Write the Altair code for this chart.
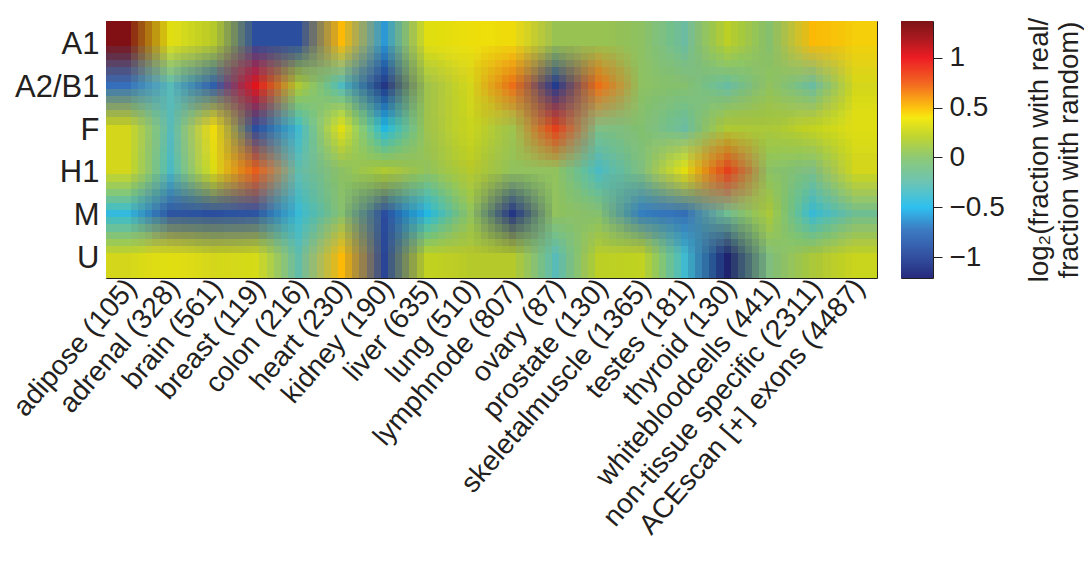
import altair as alt
import pandas as pd

tissues = ["adipose (105)", "adrenal (328)", "brain (561)", "breast (119)", "colon (216)", "heart (230)",
           "kidney (190)", "liver (635)", "lung (510)", "lymphnode (807)", "ovary (87)", "prostate (130)",
           "skeletalmuscle (1365)", "testes (181)", "thyroid (130)", "whitebloodcells (441)",
           "non-tissue specific (2311)", "ACEscan [+] exons (4487)"]
motifs = ["A1", "A2/B1", "F", "H1", "M", "U"]

row_A1 = [1.33, .38, .2, -.95, -.95, .5, -.6, .38, .4, .42, .08, .08, .03, -.2, .22, .0, .5, .45]
row_A2B1 = [-.72, -.3, -.85, 1.0, .18, -.33, -1.1, .1, .3, .7, -1.05, .7, .03, .0, -.22, .05, -.2, .3]
row_F = [.3, -.3, .42, -.95, -.4, .37, -.5, .1, .28, .1, .85, -.1, -.02, -.2, .18, .15, .25, .35]
row_H1 = [.3, -.35, .33, .75, -.25, .02, .18, .05, .2, .05, .05, -.35, -.05, .38, .85, .02, -.1, .3]
row_M = [-.45, -.9, -.95, -.9, -.42, .0, -.95, -.5, .05, -1.1, .05, .0, -.7, -.75, -.15, .15, -.42, -.15]
row_U = [.3, .38, .3, .32, -.25, .5, -1.0, .25, .2, .2, -.3, .22, .25, -.4, -1.2, -.05, .15, .28]
rows = [row_A1, row_A2B1, row_F, row_H1, row_M, row_U]

color_values = [-1.21, -1.0, -.72, -.5, -.25, 0, .2, .4, .5, .75, 1.0, 1.2, 1.37]
color_hexes = ["#262a7c", "#324f9f", "#3c7cc3", "#2fc0ef", "#6cc4b4", "#8ec975", "#bdd432", "#f5e911",
               "#fdc20f", "#f26522", "#ed1c24", "#a8191e", "#7d1416"]
bar_ticks = [-1, -0.5, 0, 0.5, 1]
lo, hi = color_values[0], color_values[-1]

W, H = 771, 257

def snap(v, start, count, size):
    # edge in axis units, placed on a whole pixel so neighbouring copies leave no seam
    return round((v - start) / count * size) / size * count + start

# Every read value is painted several times, each copy shifted by a fraction of a cell and
# composited with a running-average opacity: the overlaid copies blend like the source's smoothed image.
N = 6
offsets = [(k + .5) / N - .5 for k in range(N)]
marks = []
layer = 0
for dy in offsets:
    for dx in offsets:
        for r, row in enumerate(rows):
            for c, v in enumerate(row):
                marks.append({
                    "v": v, "op": 1 / (layer + 1),
                    "x0": -.5 if c == 0 else snap(c - .5 + dx, -.5, 18, W),
                    "x1": 17.5 if c == 17 else snap(c + .5 + dx, -.5, 18, W),
                    "y0": -.5 if r == 0 else snap(r - .5 + dy, -.5, 6, H),
                    "y1": 5.5 if r == 5 else snap(r + .5 + dy, -.5, 6, H),
                })
        layer += 1

FONT = "Liberation Sans"
x_expr = "[" + ",".join(f"'{t}'" for t in tissues) + "][datum.value]"
y_expr = "[" + ",".join(f"'{t}'" for t in motifs) + "][datum.value]"

heat = alt.Chart(pd.DataFrame(marks)).mark_rect(strokeWidth=0).encode(
    x=alt.X("x0:Q", scale=alt.Scale(domain=[-.5, 17.5], nice=False, zero=False),
            axis=alt.Axis(values=list(range(18)), labelExpr=x_expr, labelAngle=311, labelAlign="right",
                          labelBaseline="middle", labelFontSize=28, labelFont=FONT, labelColor="#231f20",
                          labelOverlap=False, labelPadding=5, labelOffset=4, ticks=False, domain=False, grid=False,
                          title=None, labelBound=False, labelFlush=False, labelLimit=600)),
    x2="x1:Q",
    y=alt.Y("y0:Q", scale=alt.Scale(domain=[5.5, -.5], nice=False, zero=False),
            axis=alt.Axis(values=list(range(6)), labelExpr=y_expr, labelFontSize=31, labelFont=FONT,
                          labelColor="#231f20", labelPadding=7, labelOffset=2, ticks=False, domain=False, grid=False,
                          title=None, labelOverlap=False)),
    y2="y1:Q",
    color=alt.Color("v:Q", scale=alt.Scale(domain=color_values, range=color_hexes, interpolate="rgb"), legend=None),
    opacity=alt.Opacity("op:Q", scale=None),
).properties(width=W, height=H)

stops = [{"color": h, "offset": (v - lo) / (hi - lo)} for v, h in zip(color_values, color_hexes)]
bar = alt.Chart(pd.DataFrame({"lo": [lo], "hi": [hi]})).mark_rect(
    fill={"gradient": "linear", "x1": 0, "x2": 0, "y1": 1, "y2": 0, "stops": stops}
).encode(
    y=alt.Y("lo:Q", scale=alt.Scale(domain=[lo, hi], nice=False, zero=False),
            axis=alt.Axis(orient="right", values=bar_ticks, format="~g", tickSize=9, tickColor="#231f20", domain=False,
                          grid=False, labelFontSize=28, labelFont=FONT, labelColor="#231f20", labelPadding=7,
                          title=["log₂(fraction with real/", "fraction with random)"], titleFont=FONT,
                          titleFontSize=27.5, titleFontWeight="normal", titleColor="#231f20", titleAngle=270,
                          titlePadding=19, titleLineHeight=30, labelBound=False, labelFlush=False)),
    y2="hi:Q",
).properties(width=32, height=H)

chart = alt.hconcat(heat, bar, spacing=22).properties(
    padding={"left": 0, "top": 8, "right": 0, "bottom": 0}, background="white"
).configure_view(stroke="#231f20", strokeWidth=1)

chart.save("out.html", embed_options={"renderer": "svg", "actions": False})
